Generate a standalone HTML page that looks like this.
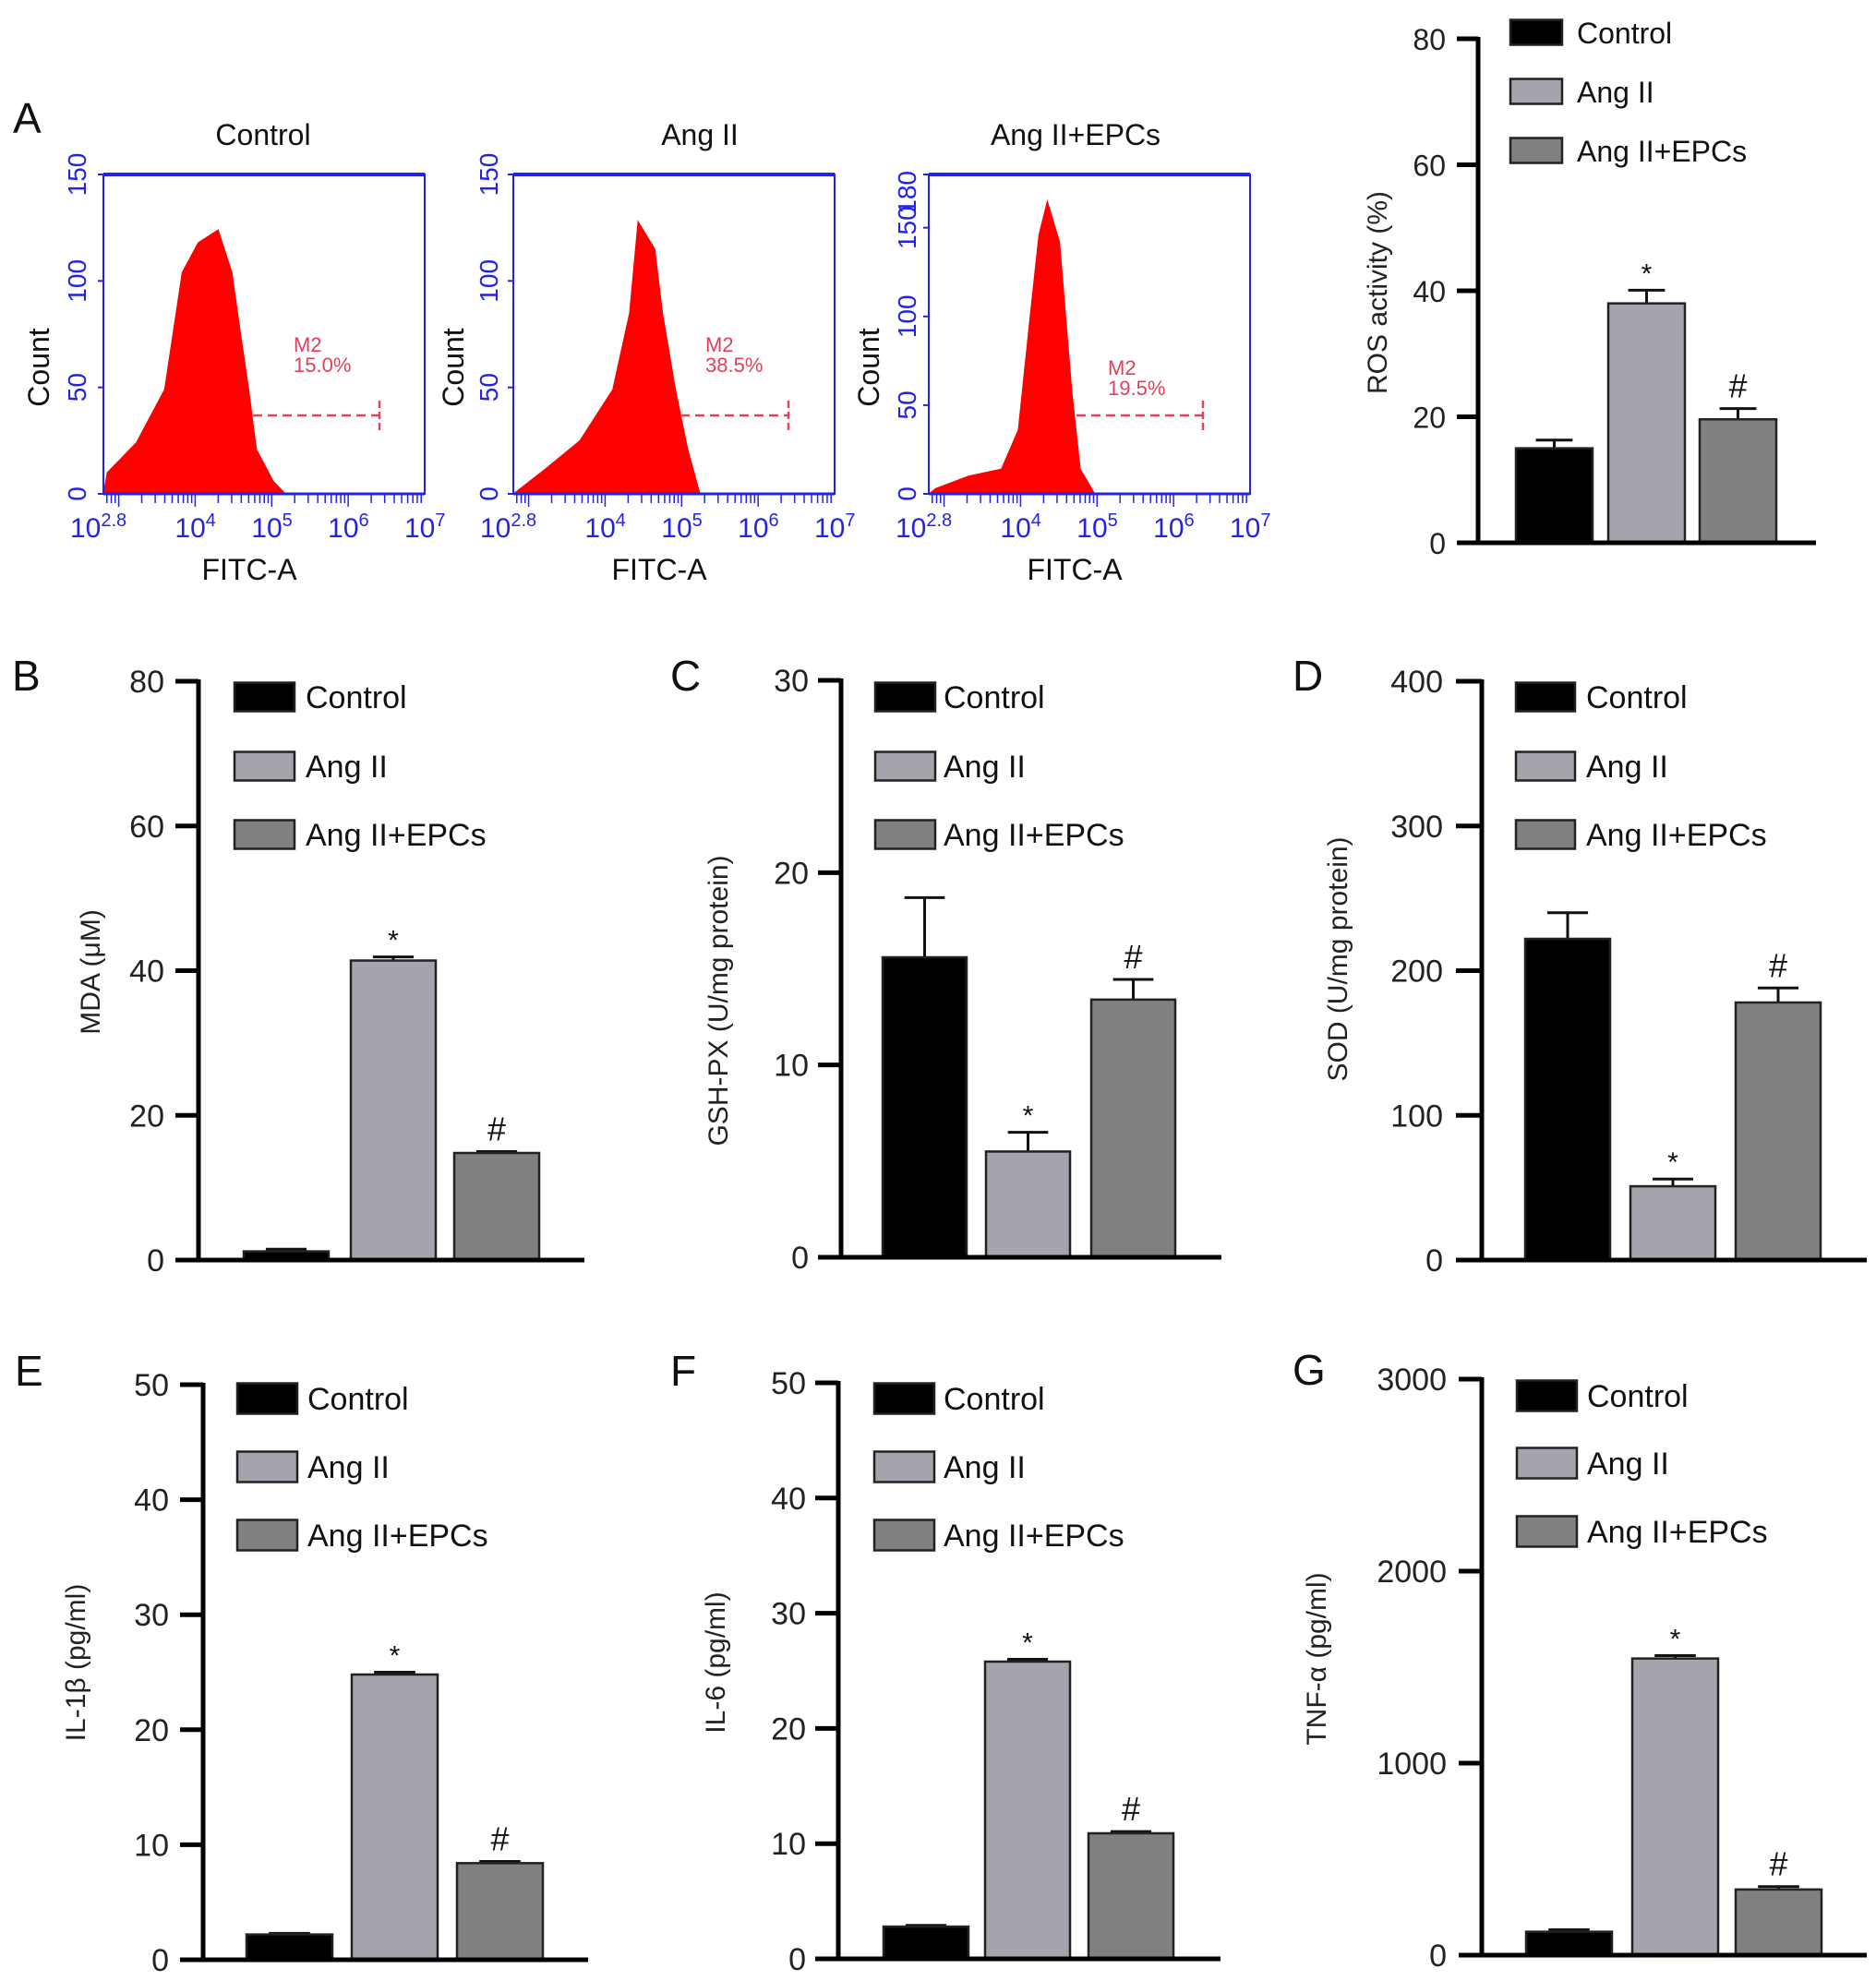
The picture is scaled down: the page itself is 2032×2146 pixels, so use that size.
<!DOCTYPE html>
<html><head><meta charset="utf-8"><style>
html,body{margin:0;padding:0;background:#fff}
svg{display:block}
text{font-family:"Liberation Sans Narrow","Liberation Sans",sans-serif}
</style></head><body>
<svg id="fig" width="2032" height="2146" viewBox="0 0 2032 2146" xmlns="http://www.w3.org/2000/svg"></svg>
<script>
// ---- data ----
const categories = ["Control","Ang II","Ang II+EPCs"];
const rosValues = [15.0, 38.0, 19.6];   const rosErr = [1.3, 2.1, 1.7];
const mdaValues = [1.2, 41.4, 14.8];    const mdaErr = [0.3, 0.5, 0.2];
const gshValues = [15.6, 5.5, 13.4];    const gshErr = [3.1, 1.0, 1.05];
const sodValues = [222, 51, 178];       const sodErr = [18, 5, 10];
const il1bValues = [2.2, 24.8, 8.4];    const il1bErr = [0.1, 0.2, 0.15];
const il6Values = [2.8, 25.8, 10.9];    const il6Err = [0.1, 0.2, 0.15];
const tnfValues = [122, 1545, 342];     const tnfErr = [10, 15, 15];
const rosTicks = [0,20,40,60,80];
const mdaTicks = [0,20,40,60,80];
const gshTicks = [0,10,20,30];
const sodTicks = [0,100,200,300,400];
const il1bTicks = [0,10,20,30,40,50];
const il6Ticks = [0,10,20,30,40,50];
const tnfTicks = [0,1000,2000,3000];
const sigMarks = ["", "*", "#"];
// flow histograms: [log10 FITC, count]
const histControlX = [2.8,2.85,3.23,3.6,3.83,4.04,4.3,4.48,4.59,4.7,4.8,5.02,5.18];
const histControlY = [0,10,24,49,104,118,124,104,76,49,21,6,0];
const histAngX = [2.8,2.91,3.23,3.67,4.1,4.32,4.43,4.65,4.75,4.92,5.08,5.24];
const histAngY = [0,3,12,25,49,85,128,115,85,49,21,0];
const histEpcX = [2.8,2.89,3.32,3.75,3.97,4.13,4.24,4.35,4.51,4.67,4.78,4.97];
const histEpcY = [0,3,10,14,36,102,146,165,142,58,14,0];
const flowTitles = ["Control","Ang II","Ang II+EPCs"];
const gatePct = ["15.0%","38.5%","19.5%"];
const flowYTicksA = [0,50,100,150];
const flowYTicksC = [0,50,100,150,180];
const xDecades = [4,5,6,7];

const NS="http://www.w3.org/2000/svg";
const svg=document.getElementById('fig');
function el(tag,attrs,parent,txt){const e=document.createElementNS(NS,tag);for(const k in attrs)e.setAttribute(k,attrs[k]);if(txt!==undefined)e.textContent=txt;(parent||svg).appendChild(e);return e;}
const fills=["#000000","#a4a4ac","#808080"];

function barChart(cfg){
  const g=el('g',{});
  
  
  const maxV=cfg.ticks[cfg.ticks.length-1];
  const y=v=>cfg.y0-(v/maxV)*(cfg.y0-cfg.ytop);
  cfg.values.forEach((v,i)=>{
    const x=cfg.bars[i], w=cfg.bw, top=y(v), et=y(v+cfg.err[i]);
    const ln=el('line',{x1:x+w/2,x2:x+w/2,y1:top,y2:et,stroke:'#111','stroke-width':3},g);
    
    
    const cap=el('line',{x1:x+w/2-w*0.24,x2:x+w/2+w*0.24,y1:et,y2:et,stroke:'#111','stroke-width':3},g);
    
    
    const r=el('rect',{x:x,y:top,width:w,height:cfg.y0-top,fill:fills[i],stroke:'#222','stroke-width':2.5},g);
    
    
    if(sigMarks[i]){
      const t=el('text',{x:x+w/2,y:et-(sigMarks[i]=='*'?8:12),'text-anchor':'middle','font-size':sigMarks[i]=='*'?30:36,fill:'#111'},g,sigMarks[i]);
      
      
    }
  });
  const ya=el('line',{x1:cfg.ax,x2:cfg.ax,y1:cfg.ytop-2,y2:cfg.y0,stroke:'#000','stroke-width':5},g);
  
  
  const xa=el('line',{x1:cfg.tickLeft,x2:cfg.end,y1:cfg.y0,y2:cfg.y0,stroke:'#000','stroke-width':5},g);
  
  
  cfg.ticks.forEach(t=>{
    const ty=y(t);
    const tk=el('line',{x1:cfg.tickLeft,x2:cfg.ax,y1:ty,y2:ty,stroke:'#000','stroke-width':5},g);
    
    
    const lb=el('text',{x:cfg.labelRight,y:ty+12,'text-anchor':'end','font-size':cfg.fs,fill:'#222',style:cfg.font||''},g,String(t));
    
    
  });
  const tt=el('text',{x:0,y:0,transform:`translate(${cfg.title[1]},${cfg.title[2]}) rotate(-90)`,'text-anchor':'middle','font-size':30,fill:'#222',style:'font-family:"Liberation Sans",sans-serif'},g,cfg.title[0]);
  
  
  categories.forEach((c,i)=>{
    const lg=el('g',{},g);
    
    
    el('rect',{x:cfg.lx,y:cfg.ly[i]-cfg.lh/2,width:cfg.lw,height:cfg.lh,fill:fills[i],stroke:'#222','stroke-width':2.5},lg);
    el('text',{x:cfg.tx,y:cfg.ly[i]+12,'font-size':cfg.lfs,fill:'#111',style:cfg.font||''},lg,c);
  });
  if(cfg.letter){
    const L=el('text',{x:cfg.letter[1],y:cfg.letter[2],'font-size':46,fill:'#111',style:'font-family:"Liberation Sans",sans-serif'},g,cfg.letter[0]);
    
    
  }
}

barChart({name:'ros-chart',values:rosValues,err:rosErr,ticks:rosTicks,ax:1601,y0:588,ytop:42,end:1967,bars:[1642,1742,1841],bw:83,tickLeft:1578,labelRight:1566,fs:32,font:'font-family:"Liberation Sans",sans-serif',lx:1636,lw:56,lh:27,ly:[35,99,163],tx:1708,lfs:32,title:['ROS activity (%)',1502,317]});
barChart({name:'mda-chart',values:mdaValues,err:mdaErr,ticks:mdaTicks,ax:215,y0:1365,ytop:738,end:633,bars:[264,380,492],bw:92,tickLeft:190,labelRight:178,fs:34,lx:254,lw:65,lh:31,ly:[755,830,904],tx:331,lfs:34,title:['MDA (\u03bcM)',108,1053],letter:['B',13,748]});
barChart({name:'gsh-px-chart',values:gshValues,err:gshErr,ticks:gshTicks,ax:911,y0:1362,ytop:737,end:1323,bars:[956,1068,1182],bw:91,tickLeft:886,labelRight:876,fs:34,lx:948,lw:65,lh:31,ly:[755,830,904],tx:1022,lfs:34,title:['GSH-PX (U/mg protein)',788,1084],letter:['C',726,748]});
barChart({name:'sod-chart',values:sodValues,err:sodErr,ticks:sodTicks,ax:1605,y0:1365,ytop:738,end:2022,bars:[1652,1766,1880],bw:92,tickLeft:1577,labelRight:1563,fs:34,lx:1642,lw:64,lh:31,ly:[755,830,904],tx:1718,lfs:34,title:['SOD (U/mg protein)',1459,1039],letter:['D',1400,748]});
barChart({name:'il1b-chart',values:il1bValues,err:il1bErr,ticks:il1bTicks,ax:220,y0:2123,ytop:1500,end:637,bars:[267,381,495],bw:93,tickLeft:195,labelRight:183,fs:34,lx:257,lw:65,lh:33,ly:[1515,1589,1663],tx:333,lfs:34,title:['IL-1\u03b2 (pg/ml)',92,1801],letter:['E',16,1501]});
barChart({name:'il6-chart',values:il6Values,err:il6Err,ticks:il6Ticks,ax:908,y0:2122,ytop:1498,end:1322,bars:[957,1067,1179],bw:92,tickLeft:883,labelRight:873,fs:34,lx:947,lw:65,lh:33,ly:[1515,1589,1663],tx:1022,lfs:34,title:['IL-6 (pg/ml)',785,1801],letter:['F',726,1501]});
barChart({name:'tnf-alpha-chart',values:tnfValues,err:tnfErr,ticks:tnfTicks,ax:1605,y0:2118,ytop:1494,end:2022,bars:[1653,1768,1880],bw:93,tickLeft:1580,labelRight:1567,fs:34,lx:1643,lw:65,lh:33,ly:[1512,1585,1659],tx:1719,lfs:34,title:['TNF-\u03b1 (pg/ml)',1436,1797],letter:['G',1400,1500]});

// ---- flow cytometry ----
const A=el('text',{x:14,y:144,'font-size':46,fill:'#111',style:'font-family:"Liberation Sans",sans-serif'},svg,'A');


const flows=[
 {x0:112,hx:histControlX,hy:histControlY,max:150,ticks:flowYTicksA,countX:43,tickX:83},
 {x0:556,hx:histAngX,hy:histAngY,max:150,ticks:flowYTicksA,countX:492,tickX:529},
 {x0:1006,hx:histEpcX,hy:histEpcY,max:180,ticks:flowYTicksC,countX:942,tickX:982}];
const blue='#2323e6', red='#ff0000';
flows.forEach((f,k)=>{
  const g=el('g',{});
  
  
  const W=348, top=189, bot=535;
  const xs=v=>f.x0+(v-2.8)/(7-2.8)*W;
  const ys=v=>bot-v/f.max*(bot-top);
  let d='M'+xs(f.hx[0])+','+bot;
  f.hx.forEach((v,i)=>{d+=' L'+xs(v)+','+ys(f.hy[i]);});
  d+=' L'+xs(f.hx[f.hx.length-1])+','+bot+' Z';
  const p=el('path',{d:d,fill:red,stroke:red,'stroke-width':1},g);
  
  
  const box=el('rect',{x:f.x0,y:top,width:W,height:bot-top,fill:'none',stroke:blue,'stroke-width':2},g);
  
  
  el('line',{x1:f.x0,x2:f.x0+W,y1:top,y2:top,stroke:blue,'stroke-width':4},g);
  el('line',{x1:f.x0,x2:f.x0+W,y1:bot,y2:bot,stroke:blue,'stroke-width':3},g);
  for(let dec=2;dec<7;dec++){for(let m=1;m<10;m++){const lv=dec+Math.log10(m);if(lv<2.8||lv>7)continue;
    el('line',{x1:xs(lv),x2:xs(lv),y1:bot,y2:bot+(m==1?14:10),stroke:blue,'stroke-width':1.5},g);}}
  const l0=el('text',{x:xs(2.8)-36,y:582,'font-size':30,fill:blue},g);
  
  
  l0.innerHTML='10<tspan dy="-12" font-size="20">2.8</tspan>';
  xDecades.forEach(dv=>{
    const t=el('text',{x:xs(dv)-22,y:582,'font-size':30,fill:blue},g);
    
    
    t.innerHTML='10<tspan dy="-12" font-size="20">'+dv+'</tspan>';
  });
  const xt=el('text',{x:f.x0+158,y:628,'text-anchor':'middle','font-size':32,fill:'#111'},g,'FITC-A');
  
  
  const ct=el('text',{x:0,y:0,transform:`translate(${f.countX+10},398) rotate(-90)`,'text-anchor':'middle','font-size':32,fill:'#111'},g,'Count');
  
  
  f.ticks.forEach(t=>{
    let anchor='middle', pos=ys(t);
    if(t==f.max && f.max==180){anchor='end'; pos=top-4;}
    const tl=el('text',{x:0,y:0,transform:`translate(${f.tickX+10},${pos}) rotate(-90)`,'text-anchor':anchor,'font-size':28,fill:blue},g,String(t));
    
    
    el('line',{x1:f.x0-6,x2:f.x0,y1:ys(t),y2:ys(t),stroke:blue,'stroke-width':2},g);
  });
  const ti=el('text',{x:[285,758,1165][k],y:157,'text-anchor':'middle','font-size':32,fill:'#111'},g,flowTitles[k]);
  
  
  const gy=450, gx1=f.x0+[162,181,160][k], gx2=f.x0+[299,298,297][k];
  const gl=el('line',{x1:gx1,x2:gx2,y1:gy,y2:gy,stroke:'#e8405a','stroke-width':2.5,'stroke-dasharray':'10 6'},g);
  
  
  el('line',{x1:gx2,x2:gx2,y1:gy-16,y2:gy+16,stroke:'#e8405a','stroke-width':2.5,'stroke-dasharray':'8 4'},g);
  const tx=f.x0+[206,208,194][k], ty=[381,381,406][k];
  const m1=el('text',{x:tx,y:ty,'font-size':22,fill:'#e0405a'},g,'M2');
  
  
  const m2=el('text',{x:tx,y:ty+22,'font-size':22,fill:'#e0405a'},g,gatePct[k]);
  
  
});
</script>
</body></html>
